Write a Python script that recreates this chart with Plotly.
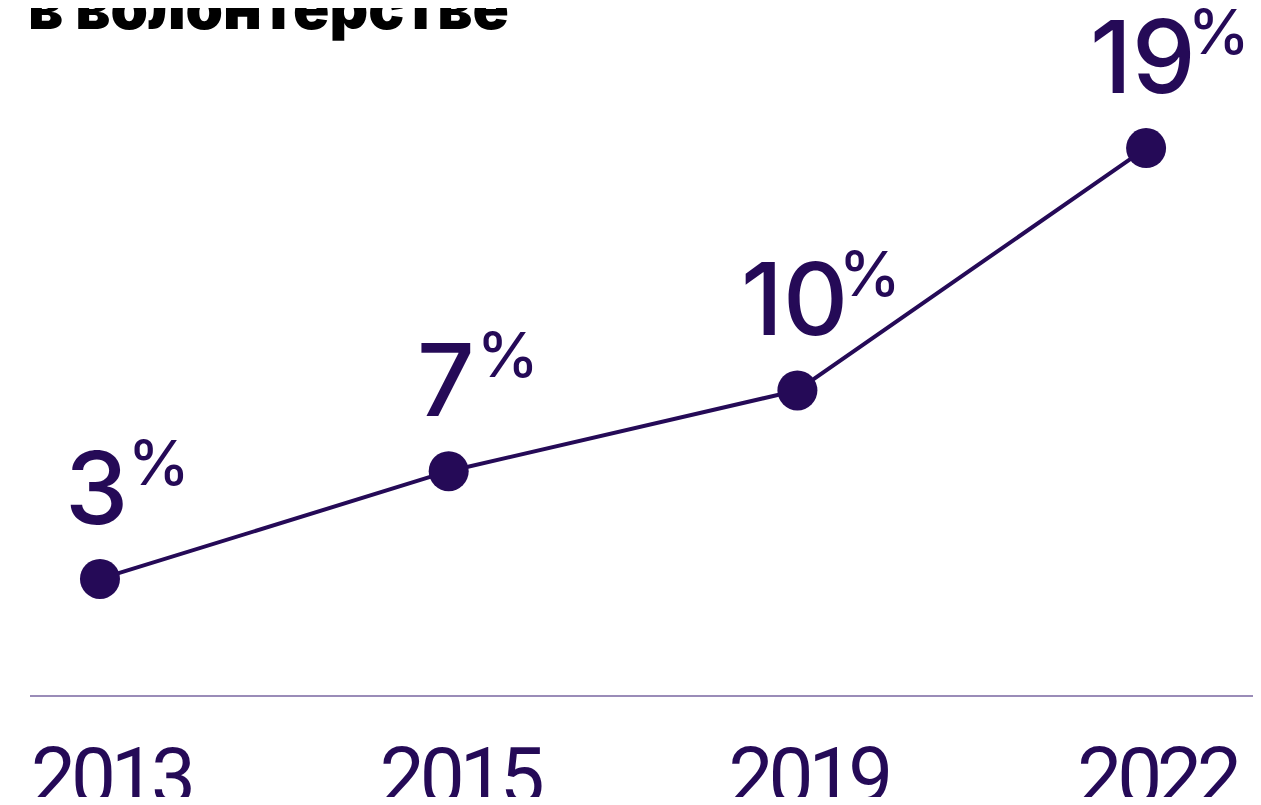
import plotly.graph_objects as go

years = ["2013", "2015", "2019", "2022"]
shares = [3, 7, 10, 19]
value_labels = ["3", "7", "10", "19"]
title_text = "в волонтерстве"

INK = "#250a57"

fig = go.Figure()
fig.add_trace(go.Scatter(
    x=years, y=shares, mode="lines+markers",
    line=dict(color=INK, width=4),
    marker=dict(color=INK, size=40),
    hoverinfo="skip", showlegend=False,
))

for i, (v, lab) in enumerate(zip(shares, value_labels)):
    fig.add_annotation(
        x=i, y=v, xref="x", yref="y", text=lab, showarrow=False,
        font=dict(family="Inter", size=101, color=INK, weight=500),
        xanchor="center", yanchor="bottom", yshift=29, xshift=-3,
    )
    fig.add_annotation(
        x=i, y=v, xref="x", yref="y", text="%", showarrow=False,
        font=dict(family="Inter", size=62, color=INK, weight=500),
        xanchor="left", yanchor="bottom", yshift=77,
        xshift=14 * len(lab) + 12,
    )

fig.add_annotation(
    x=0, y=1, xref="paper", yref="paper", text=title_text, showarrow=False,
    font=dict(family="Inter", size=60, color="#000000", weight=900),
    xanchor="left", yanchor="bottom", yshift=-37, xshift=-4,
)

tick_text = ["<span style='letter-spacing:-5px'>%s</span>" % y for y in years]

fig.update_layout(
    width=1245, height=789,
    margin=dict(l=22, r=0, t=0, b=102, pad=0),
    paper_bgcolor="white", plot_bgcolor="white",
    xaxis=dict(
        type="category", range=[-0.2007, 3.3066], automargin=False,
        showgrid=False, zeroline=False,
        showline=True, linecolor="#9a8cb8", linewidth=2,
        ticks="", ticklabelshift=11, ticklabelstandoff=11,
        tickvals=years, ticktext=tick_text,
        tickfont=dict(family="Roboto", size=80, color=INK),
    ),
    yaxis=dict(
        range=[-1.31, 24.2], visible=False, showgrid=False, zeroline=False,
        automargin=False,
    ),
)

fig.write_html("out.html")
